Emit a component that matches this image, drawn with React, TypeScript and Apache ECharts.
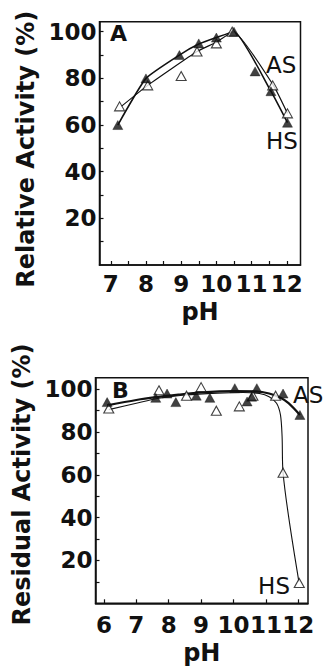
import React, { useEffect, useRef } from "react";
import * as echarts from "echarts";

// Panel A: relative activity vs pH
const A_AS_PH = [7.2, 8.0, 8.95, 9.5, 10.0, 10.5, 11.1, 11.55, 12.02];
const A_AS_ACT = [60, 80, 90, 95, 97.5, 100, 83, 74.5, 61];
const A_HS_PH = [7.25, 8.05, 9.0, 9.45, 10.0, 10.45, 11.6, 12.02];
const A_HS_ACT = [68, 77, 81, 91.5, 95, 100, 77, 65];
const A_AS_FIT_PH = [7.2, 8.0, 8.95, 9.5, 10.0, 10.5, 11.55, 12.02];
const A_AS_FIT_ACT = [60, 80, 90, 94.7, 97.5, 100, 74.5, 61];
const A_HS_FIT_PH = [7.3, 8.05, 9.45, 10.0, 10.48, 11.62, 12.02];
const A_HS_FIT_ACT = [68, 77, 91.5, 95.5, 100, 77, 65];

// Panel B: residual activity vs pH
const B_AS_PH = [6.1, 7.6, 7.95, 8.22, 8.85, 9.27, 10.04, 10.42, 10.56, 10.72, 11.53, 12.05];
const B_AS_ACT = [94, 96, 98, 94, 97, 96, 100.5, 94.3, 96.5, 100.5, 98, 88];
const B_HS_PH = [6.15, 7.7, 8.55, 9.0, 9.47, 10.18, 10.6, 11.3, 11.53, 12.03];
const B_HS_ACT = [91, 99.5, 97, 101, 90, 92, 97, 97, 61, 9.5];
const B_AS_FIT_PH = [6.1, 7.0, 7.6, 8.3, 9.0, 10.0, 10.7, 11.1, 11.45, 11.7, 12.05];
const B_AS_FIT_ACT = [92.5, 95, 96.3, 97.5, 98.5, 99.1, 99, 98, 96, 93.5, 88];
const B_HS_FIT_PH = [6.15, 7.0, 7.7, 8.5, 9.5, 10.3, 10.8, 11.1, 11.33, 11.45, 11.5, 11.53, 12.02];
const B_HS_FIT_ACT = [90.5, 93.5, 95.8, 97.3, 98.2, 98.5, 98, 96.5, 93.5, 88, 78, 61, 10];

// Axis ticks / labels
const A_X_TICKS = [7, 7.5, 8, 8.5, 9, 9.5, 10, 10.5, 11, 11.5, 12];
const A_X_LABELS = [7, 8, 9, 10, 11, 12];
const B_X_TICKS = [6, 7, 8, 9, 10, 11, 12];
const B_X_LABELS = [6, 7, 8, 9, 10, 11, 12];
const Y_TICKS = [10, 20, 30, 40, 50, 60, 70, 80, 90, 100];
const Y_LABELS = [20, 40, 60, 80, 100];

const zip = (xs: number[], ys: number[]) => xs.map((x, i) => [x, ys[i]]);

const INK = "#111";
const FONT = "DejaVu Sans";

function xAxis(gridIndex: number, min: number, max: number, ticks: number[], labels: number[], margin: number, gap: number) {
  return {
    type: "value",
    gridIndex,
    min,
    max,
    name: "pH",
    nameLocation: "middle",
    nameGap: gap,
    nameTextStyle: { fontFamily: FONT, fontWeight: "bold", fontSize: 24, color: INK },
    axisLine: { show: true, lineStyle: { color: INK, width: 1.5 } },
    axisTick: { show: true, inside: true, length: 4, customValues: ticks, lineStyle: { color: INK, width: 1.2 } },
    axisLabel: { customValues: labels, margin, fontFamily: FONT, fontWeight: "bold", fontSize: 23, color: INK },
    splitLine: { show: false },
  };
}

function yAxis(gridIndex: number, max: number, name: string, pad: number[]) {
  return {
    type: "value",
    gridIndex,
    min: 0,
    max,
    name,
    nameLocation: "middle",
    nameRotate: 90,
    nameGap: 54,
    nameTextStyle: { fontFamily: FONT, fontWeight: "bold", fontSize: 24, color: INK, padding: pad },
    axisLine: { show: true, lineStyle: { color: INK, width: 1.5 } },
    axisTick: { show: true, inside: true, length: 4, customValues: Y_TICKS, lineStyle: { color: INK, width: 1.2 } },
    axisLabel: { customValues: Y_LABELS, margin: 3, fontFamily: FONT, fontWeight: "bold", fontSize: 23, color: INK },
    splitLine: { show: false },
  };
}

function fitLine(axisIndex: number, xs: number[], ys: number[], width: number, smooth: number) {
  return {
    type: "line",
    xAxisIndex: axisIndex,
    yAxisIndex: axisIndex,
    data: zip(xs, ys),
    showSymbol: false,
    symbol: "none",
    smooth,
    lineStyle: { color: INK, width },
    z: 2,
    silent: true,
  };
}

function markers(axisIndex: number, xs: number[], ys: number[], filled: boolean) {
  return {
    type: "scatter",
    xAxisIndex: axisIndex,
    yAxisIndex: axisIndex,
    data: zip(xs, ys),
    symbol: "triangle",
    symbolSize: [10, 9],
    itemStyle: filled
      ? { color: INK, borderColor: INK, borderWidth: 0.5 }
      : { color: "#fff", borderColor: INK, borderWidth: 1.1 },
    z: 3,
    silent: true,
  };
}

function label(text: string, x: number, y: number, bold: boolean, size: number, align = "left") {
  return {
    type: "text",
    x,
    y,
    z: 10,
    style: {
      text,
      fontFamily: FONT,
      fontWeight: bold ? "bold" : "normal",
      fontSize: size,
      fill: INK,
      align,
      verticalAlign: "middle",
    },
  };
}

export default function App() {
  const ref = useRef<HTMLDivElement>(null);
  useEffect(() => {
    if (!ref.current) return;
    const chart = echarts.init(ref.current, undefined, { renderer: "svg" });
    chart.setOption({
      animation: false,
      backgroundColor: "#fff",
      grid: [
        { left: 99.5, top: 21.7, width: 201, height: 243.3, show: true, borderColor: INK, borderWidth: 1.5, backgroundColor: "transparent" },
        { left: 95.5, top: 377.7, width: 212.5, height: 225.6, show: true, borderColor: INK, borderWidth: 1.5, backgroundColor: "transparent" },
      ],
      xAxis: [
        xAxis(0, 6.68, 12.39, A_X_TICKS, A_X_LABELS, 7, 35),
        xAxis(1, 5.74, 12.3, B_X_TICKS, B_X_LABELS, 10, 38),
      ],
      yAxis: [
        yAxis(0, 104.3, "Relative Activity (%)", [0, 12, 0, 0]),
        yAxis(1, 105.4, "Residual Activity (%)", [0, 0, 0, 12]),
      ],
      series: [
        fitLine(0, A_AS_FIT_PH, A_AS_FIT_ACT, 1.6, 0.15),
        fitLine(0, A_HS_FIT_PH, A_HS_FIT_ACT, 1.2, 0.15),
        markers(0, A_HS_PH, A_HS_ACT, false),
        markers(0, A_AS_PH, A_AS_ACT, true),
        fitLine(1, B_AS_FIT_PH, B_AS_FIT_ACT, 2.2, 0.3),
        fitLine(1, B_HS_FIT_PH, B_HS_FIT_ACT, 1.1, 0.3),
        markers(1, B_HS_PH, B_HS_ACT, false),
        markers(1, B_AS_PH, B_AS_ACT, true),
      ],
      graphic: [
        label("A", 110, 33, true, 22),
        label("B", 112, 390, true, 22),
        label("AS", 266, 65, false, 23),
        label("HS", 266, 141, false, 23),
        label("AS", 293, 395, false, 23),
        label("HS", 290, 586, false, 23, "right"),
      ],
    });
    return () => chart.dispose();
  }, []);
  return <div ref={ref} style={{ position: "absolute", left: 0, top: 0, width: 326, height: 669 }} />;
}
